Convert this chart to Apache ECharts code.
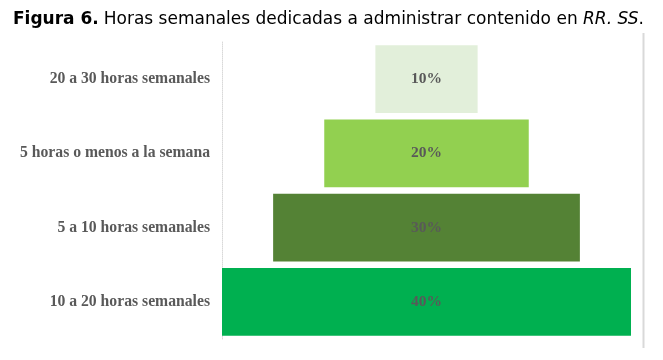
<!DOCTYPE html>
<html>
<head>
<meta charset="utf-8">
<script src="https://cdn.jsdelivr.net/npm/echarts@6/dist/echarts.min.js"></script>
<style>html,body{margin:0;padding:0;background:#fff;}#c{width:663px;height:360px;}</style>
</head>
<body>
<div id="c"></div>
<script>
const categories = ['10 a 20 horas semanales', '5 a 10 horas semanales', '5 horas o menos a la semana', '20 a 30 horas semanales'];
const values = [40, 30, 20, 10];
const barColors = ['#00B050', '#548235', '#92D050', '#E2EFDA'];
const maxValue = Math.max.apply(null, values);
const offsets = values.map(v => (maxValue - v) / 2);

const chart = echarts.init(document.getElementById('c'), null, {renderer: 'canvas'});
chart.setOption({
  animation: false,
  backgroundColor: '#fff',
  title: {
    text: '{b|Figura 6.} {n|Horas semanales dedicadas a administrar contenido en }{i|RR. SS}{n|.}',
    left: 8, top: 6,
    textStyle: {
      fontWeight: 'normal',
      rich: {
        b: {fontFamily: 'DejaVu Sans', fontWeight: 'bold', fontSize: 17, color: '#000'},
        n: {fontFamily: 'DejaVu Sans', fontWeight: 'normal', fontSize: 17, color: '#000'},
        i: {fontFamily: 'DejaVu Sans', fontWeight: 'normal', fontStyle: 'italic', fontSize: 17, color: '#000'}
      }
    }
  },
  grid: {left: 222, right: 32, top: 42, bottom: 21, show: false},
  xAxis: {
    type: 'value', min: 0, max: maxValue, show: false
  },
  yAxis: {
    type: 'category', data: categories,
    axisLine: {show: true, lineStyle: {color: '#d9d9d9', type: 'dotted', width: 1}},
    axisTick: {show: false},
    axisLabel: {fontFamily: 'Liberation Serif', fontWeight: 'bold', fontSize: 15.7, color: '#595959', margin: 12, padding: [8, 0, 0, 0]}
  },
  graphic: [{
    type: 'line', shape: {x1: 643.5, y1: 33, x2: 643.5, y2: 348},
    style: {stroke: '#d9d9d9', lineWidth: 2}
  }],
  series: [{
    type: 'bar', stack: 'f', data: offsets, barCategoryGap: '9%',
    itemStyle: {color: 'transparent'}, silent: true
  }, {
    type: 'bar', stack: 'f', barCategoryGap: '9%',
    data: values.map((v, i) => ({value: v, itemStyle: {color: barColors[i]}})),
    label: {
      show: true, position: 'inside', formatter: '{c}%', padding: [4, 0, 0, 0],
      fontFamily: 'Liberation Serif', fontWeight: 'bold', fontSize: 15.5, color: '#595959'
    }
  }]
});
</script>
</body>
</html>
